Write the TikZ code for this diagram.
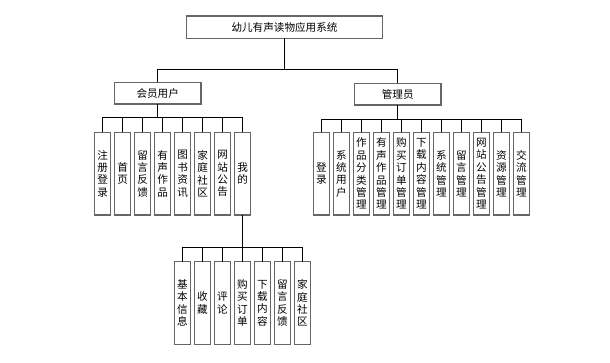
\documentclass[tikz,border=0pt]{standalone}
\usepackage{fontspec}
\setmainfont{Noto Sans CJK SC}
\usetikzlibrary{positioning}
\definecolor{boxgray}{HTML}{666666}

\begin{document}
\begin{tikzpicture}[
			x=1pt,y=1pt,
			node distance=4pt and 4pt,
			every node/.style={font=\fontsize{10.6}{12.4}\selectfont,align=center,inner sep=0pt,outer sep=0pt},
			box/.style={draw=boxgray,line width=1.3pt,fill=white,minimum height=21.7pt},
			leaf/.style={draw=boxgray,line width=1.3pt,fill=white,minimum width=16pt,minimum height=82.7pt},
			link/.style={draw=black,line width=0.9pt}
			]
			\useasboundingbox (0,0) rectangle (610,-362);
			% top level
			\node[box,minimum width=195.6pt,minimum height=22.3pt] (root) at (284.5,-27) {幼儿有声读物应用系统};
			\node[box,minimum width=86.7pt] (user) at (157.7,-93.2) {会员用户};
			\node[box,minimum width=86.7pt] (admin) at (397.7,-94.2) {管理员};
			% member side
			\node[leaf] (u1) at (102.7,-173.7) {注\\册\\登\\录};
			\node[leaf,right=of u1] (u2) {首\\页};
			\node[leaf,right=of u2] (u3) {留\\言\\反\\馈};
			\node[leaf,right=of u3] (u4) {有\\声\\作\\品};
			\node[leaf,right=of u4] (u5) {图\\书\\资\\讯};
			\node[leaf,right=of u5] (u6) {家\\庭\\社\\区};
			\node[leaf,right=of u6] (u7) {网\\站\\公\\告};
			\node[leaf,right=of u7] (u8) {我\\的};
			% admin side
			\node[leaf] (a1) at (321.3,-173.7) {登\\录};
			\node[leaf,right=of a1] (a2) {系\\统\\用\\户};
			\node[leaf,right=of a2] (a3) {作\\品\\分\\类\\管\\理};
			\node[leaf,right=of a3] (a4) {有\\声\\作\\品\\管\\理};
			\node[leaf,right=of a4] (a5) {购\\买\\订\\单\\管\\理};
			\node[leaf,right=of a5] (a6) {下\\载\\内\\容\\管\\理};
			\node[leaf,right=of a6] (a7) {系\\统\\管\\理};
			\node[leaf,right=of a7] (a8) {留\\言\\管\\理};
			\node[leaf,right=of a8] (a9) {网\\站\\公\\告\\管\\理};
			\node[leaf,right=of a9] (a10) {资\\源\\管\\理};
			\node[leaf,right=of a10] (a11) {交\\流\\管\\理};
			% my page
			\node[leaf] (m1) at (182.3,-303) {基\\本\\信\\息};
			\node[leaf,right=of m1] (m2) {收\\藏};
			\node[leaf,right=of m2] (m3) {评\\论};
			\node[leaf,right=of m3] (m4) {购\\买\\订\\单};
			\node[leaf,right=of m4] (m5) {下\\载\\内\\容};
			\node[leaf,right=of m5] (m6) {留\\言\\反\\馈};
			\node[leaf,right=of m6] (m7) {家\\庭\\社\\区};
			% connectors
			\draw[link] (root.south) -- ++(0,-31) -| (user.north);
			\draw[link] (root.south) -- ++(0,-31) -| (admin.north);
			\draw[link] (user.south) -- ++(0,-13.7) -| (u1.north);
			\draw[link] (user.south) -- ++(0,-13.7) -| (u2.north);
			\draw[link] (user.south) -- ++(0,-13.7) -| (u3.north);
			\draw[link] (user.south) -- ++(0,-13.7) -| (u4.north);
			\draw[link] (user.south) -- ++(0,-13.7) -| (u5.north);
			\draw[link] (user.south) -- ++(0,-13.7) -| (u6.north);
			\draw[link] (user.south) -- ++(0,-13.7) -| (u7.north);
			\draw[link] (user.south) -- ++(0,-13.7) -| (u8.north);
			\draw[link] (admin.south) -- ++(0,-14) -| (a1.north);
			\draw[link] (admin.south) -- ++(0,-14) -| (a2.north);
			\draw[link] (admin.south) -- ++(0,-14) -| (a3.north);
			\draw[link] (admin.south) -- ++(0,-14) -| (a4.north);
			\draw[link] (admin.south) -- ++(0,-14) -| (a5.north);
			\draw[link] (admin.south) -- ++(0,-14) -| (a6.north);
			\draw[link] (admin.south) -- ++(0,-14) -| (a7.north);
			\draw[link] (admin.south) -- ++(0,-14) -| (a8.north);
			\draw[link] (admin.south) -- ++(0,-14) -| (a9.north);
			\draw[link] (admin.south) -- ++(0,-14) -| (a10.north);
			\draw[link] (admin.south) -- ++(0,-14) -| (a11.north);
			\draw[link] (u8.south) -- ++(0,-32.7) -| (m1.north);
			\draw[link] (u8.south) -- ++(0,-32.7) -| (m2.north);
			\draw[link] (u8.south) -- ++(0,-32.7) -| (m3.north);
			\draw[link] (u8.south) -- ++(0,-32.7) -| (m4.north);
			\draw[link] (u8.south) -- ++(0,-32.7) -| (m5.north);
			\draw[link] (u8.south) -- ++(0,-32.7) -| (m6.north);
			\draw[link] (u8.south) -- ++(0,-32.7) -| (m7.north);
		\end{tikzpicture}
\end{document}
